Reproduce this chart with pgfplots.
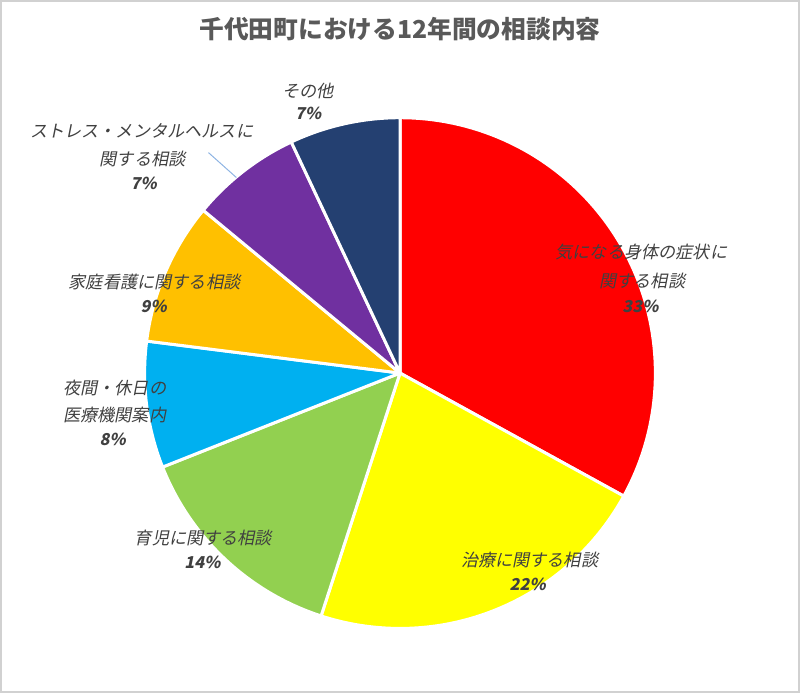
\documentclass[border=0pt]{standalone}
\usepackage{fontspec}
\setmainfont{Noto Sans CJK JP}
\newfontfamily\jpit{Noto Sans CJK JP}[FakeSlant=0.2]
\usepackage{pgfplots}
\usepackage{pgfplotstable}
\pgfplotsset{compat=1.18}

\definecolor{slice0}{RGB}{255,0,0}
\definecolor{slice1}{RGB}{255,255,0}
\definecolor{slice2}{RGB}{146,208,80}
\definecolor{slice3}{RGB}{0,176,240}
\definecolor{slice4}{RGB}{255,192,0}
\definecolor{slice5}{RGB}{112,48,160}
\definecolor{slice6}{RGB}{36,64,113}
\definecolor{labelgray}{RGB}{64,64,64}
\definecolor{titlegray}{RGB}{89,89,89}
\definecolor{leader}{RGB}{142,180,227}

% share of each topic, clockwise from 12 o'clock
\pgfplotstableread[col sep=comma]{
topic,value
気になる身体の症状に関する相談,33
治療に関する相談,22
育児に関する相談,14
夜間・休日の医療機関案内,8
家庭看護に関する相談,9
ストレス・メンタルヘルスに関する相談,7
その他,7
}\piedata

\begin{document}
\begin{tikzpicture}[
    lbl/.style={font=\jpit\fontsize{8.6pt}{10pt}\selectfont, text=labelgray, anchor=center, inner sep=0pt},
    pct/.style={font=\jpit\bfseries\fontsize{8.2pt}{10pt}\selectfont, text=labelgray, anchor=center, inner sep=0pt},
]
\begin{axis}[
    scale only axis,
    width=400pt, height=346.5pt,
    xmin=0, xmax=800, ymin=0, ymax=693,
    y dir=reverse,
    xtick=\empty, ytick=\empty,
    axis line style={draw=black!18, line width=1pt},
    clip=false,
]
% pie slices: centre (400,373), radius 256
\pgfplotstablegetrowsof{\piedata}
\pgfmathtruncatemacro\lastrow{\pgfplotsretval-1}
\def\angA{90}
\pgfplotsforeachungrouped \i in {0,...,\lastrow}{%
    \pgfplotstablegetelem{\i}{value}\of\piedata
    \pgfmathsetmacro\angB{\angA-3.6*\pgfplotsretval}%
    \edef\slice{\noexpand\addplot[fill=slice\i, draw=white, line width=1.5pt,
        line join=round, domain=\angB:\angA, samples=80, variable=\noexpand\t]
        ({400+256*cos(\noexpand\t)},{373-256*sin(\noexpand\t)})
        -- (axis cs:400,373) -- cycle;}%
    \slice
    \global\let\angA\angB
}

% title
\node[font=\bfseries\fontsize{12.4pt}{14pt}\selectfont, text=titlegray, anchor=center]
    at (axis cs:400,28) {千代田町における12年間の相談内容};

% data labels
\node[lbl] at (axis cs:642,252) {気になる身体の症状に};
\node[lbl] at (axis cs:643,281) {関する相談};
\node[pct] at (axis cs:641,306) {33\%};

\node[lbl] at (axis cs:530,560) {治療に関する相談};
\node[pct] at (axis cs:528,585) {22\%};

\node[lbl] at (axis cs:203,538) {育児に関する相談};
\node[pct] at (axis cs:202,563) {14\%};

\node[lbl] at (axis cs:114,388) {夜間・休日の};
\node[lbl] at (axis cs:114,415) {医療機関案内};
\node[pct] at (axis cs:112,440) {8\%};

\node[lbl] at (axis cs:154,282) {家庭看護に関する相談};
\node[pct] at (axis cs:153,306) {9\%};

\node[lbl] at (axis cs:141,130) {ストレス・メンタルヘルスに};
\node[lbl] at (axis cs:142,158) {関する相談};
\node[pct] at (axis cs:143,183) {7\%};
\draw[leader, line width=0.5pt] (axis cs:208,152) -- (axis cs:236,177);

\node[lbl] at (axis cs:308,90) {その他};
\node[pct] at (axis cs:308,113) {7\%};
\end{axis}
\end{tikzpicture}
\end{document}
